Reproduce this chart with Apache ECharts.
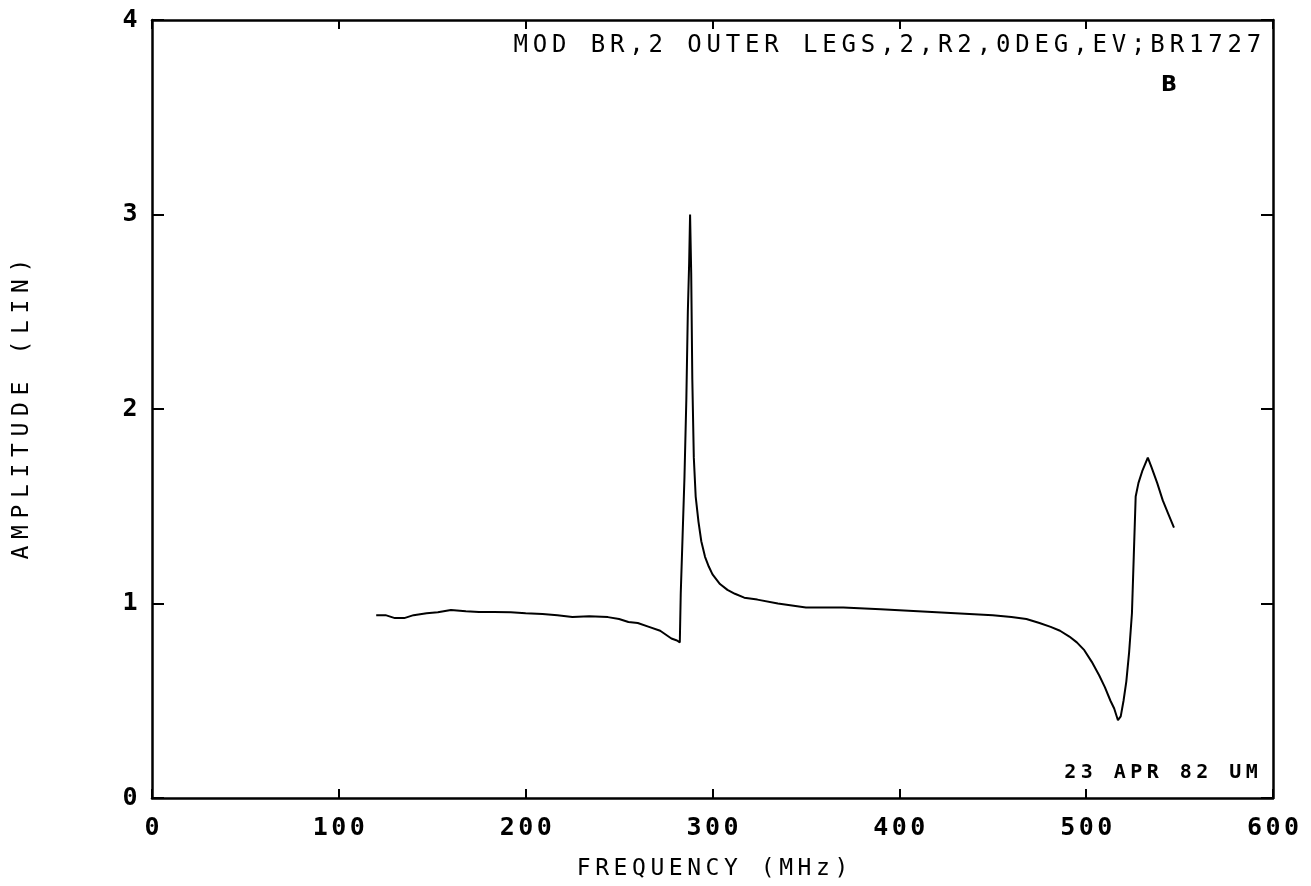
<!DOCTYPE html>
<html>
<head>
<meta charset="utf-8">
<script src="https://cdn.jsdelivr.net/npm/echarts@6/dist/echarts.min.js"></script>
<style>
html,body{margin:0;padding:0;background:#fff;}
#chart{width:1311px;height:886px;}
</style>
</head>
<body>
<div id="chart"></div>
<script>
// ---- data ----
const freq = [120,125,130,135,140,147,153,160,168,175,183,192,200,209,217,225,234,244,250,255,260,266,272,278,281,282.5,283,284,285,286,286.8,287.5,288,288.6,289.2,290,291,292.5,294,296,298,300,304,308,312,317,324,335,350,370,390,410,430,450,460,468,475,481,486,491,495,499,503,507,510,513,515,517,518.5,520,521.5,523,524.5,525.5,526.5,528,530,533,535,538,541,544,547];
const amp  = [0.94,0.94,0.925,0.925,0.94,0.95,0.955,0.967,0.96,0.956,0.956,0.955,0.95,0.946,0.94,0.93,0.935,0.93,0.92,0.905,0.9,0.88,0.86,0.82,0.81,0.80,1.05,1.35,1.65,2.05,2.5,2.75,3.0,2.7,2.15,1.75,1.55,1.42,1.32,1.24,1.19,1.15,1.1,1.07,1.05,1.03,1.02,1.0,0.98,0.98,0.97,0.96,0.95,0.94,0.93,0.92,0.9,0.88,0.86,0.83,0.80,0.76,0.70,0.63,0.57,0.50,0.46,0.40,0.42,0.50,0.60,0.75,0.95,1.25,1.55,1.62,1.68,1.75,1.70,1.62,1.53,1.46,1.39];
const xTicks = {min:0, max:600, interval:100};
const yTicks = {min:0, max:4, interval:1};
const titleText = "MOD BR,2 OUTER LEGS,2,R2,0DEG,EV;BR1727";
const markText = "B";
const dateText = "23 APR 82 UM";
const xName = "FREQUENCY (MHz)";
const yName = "AMPLITUDE (LIN)";

const MONO = "'DejaVu Sans Mono', 'Liberation Mono', monospace";
function sp(s, key){ key = key || 'c'; return s.split('').map(ch => '{' + key + '|' + (ch === ' ' ? '\u00a0' : ch) + '}').join(''); }
function cell(w, size, weight){ return {width:w, align:'center', fontFamily:MONO, fontSize:size, fontWeight:weight||'normal', color:'#000'}; }

const pts = freq.map((f,i)=>[f, amp[i]]);

const chart = echarts.init(document.getElementById('chart'));
const axisLine = {show:true, onZero:false, lineStyle:{color:'#000', width:2.5}};
chart.setOption({
  backgroundColor:'#fff',
  animation:false,
  grid:{left:152, right:38, top:20, bottom:88},
  title:[
    {text: sp(titleText), left:506, top:29, textStyle:{rich:{c:cell(19.3,24)}, lineHeight:24}},
    {text: markText, left:1156, top:70, textStyle:{fontFamily:"'DejaVu Sans', sans-serif", fontSize:21, fontWeight:'bold', color:'#000'}},
    {text: sp(dateText), left:1057, top:757, textStyle:{rich:{c:cell(16.5,20,'bold')}, lineHeight:22}}
  ],
  xAxis:[
    {type:'value', position:'bottom', min:xTicks.min, max:xTicks.max, interval:xTicks.interval,
     axisLine:axisLine, axisTick:{show:true, inside:true, length:9, lineStyle:{color:'#000', width:2}},
     splitLine:{show:false},
     axisLabel:{margin:18, formatter:v=>sp(String(v)), rich:{c:cell(18.5,25,'bold')}},
     name: sp(xName,'n'), nameLocation:'middle', nameGap:60,
     nameTextStyle:{rich:{n:cell(18.4,23)}}},
    {type:'value', position:'top', min:xTicks.min, max:xTicks.max, interval:xTicks.interval,
     axisLine:axisLine, axisTick:{show:true, inside:true, length:9, lineStyle:{color:'#000', width:2}},
     splitLine:{show:false}, axisLabel:{show:false}}
  ],
  yAxis:[
    {type:'value', position:'left', min:yTicks.min, max:yTicks.max, interval:yTicks.interval,
     axisLine:axisLine, axisTick:{show:true, inside:true, length:12, lineStyle:{color:'#000', width:2}},
     splitLine:{show:false},
     axisLabel:{margin:14, formatter:v=>sp(String(v)), rich:{c:cell(16,25,'bold')}},
     name: sp(yName,'n'), nameLocation:'middle', nameGap:118, nameRotate:90,
     nameTextStyle:{rich:{n:cell(20.5,23)}}},
    {type:'value', position:'right', min:yTicks.min, max:yTicks.max, interval:yTicks.interval,
     axisLine:axisLine, axisTick:{show:true, inside:true, length:12, lineStyle:{color:'#000', width:2}},
     splitLine:{show:false}, axisLabel:{show:false}}
  ],
  series:[{
    type:'line', xAxisIndex:0, yAxisIndex:0, data:pts, showSymbol:false, symbol:'none',
    lineStyle:{color:'#000', width:2}, z:5
  }]
});
</script>
</body>
</html>
